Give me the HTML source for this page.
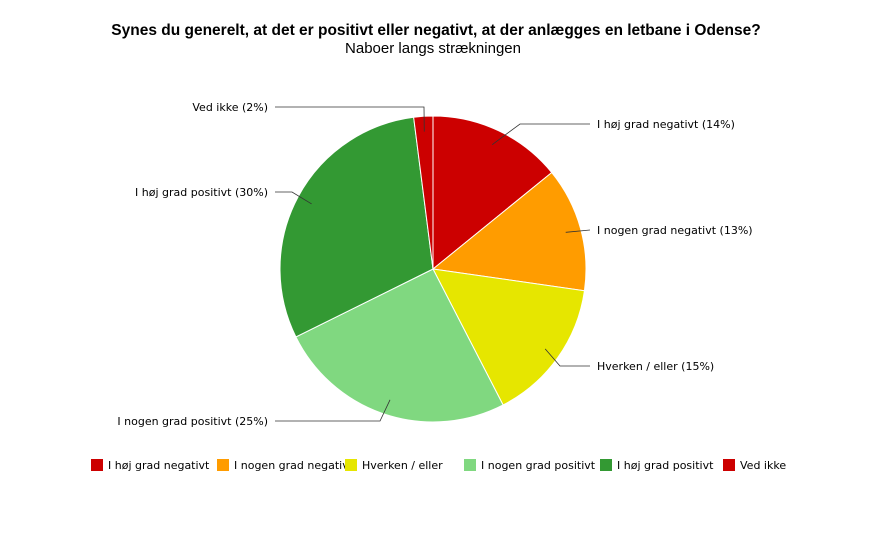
<!DOCTYPE html>
<html><head><meta charset="utf-8"><style>
body{margin:0;background:#fff;width:884px;height:546px;overflow:hidden;font-family:"Liberation Sans",Verdana,sans-serif}
svg text{font-family:"DejaVu Sans","Liberation Sans",sans-serif}
</style></head><body>
<svg id="chart" width="884" height="546" xmlns="http://www.w3.org/2000/svg">
<text x="436" y="35" text-anchor="middle" font-size="15.5" font-weight="bold" fill="#000" style="font-family:'Liberation Sans',sans-serif">Synes du generelt, at det er positivt  eller negativt, at der anlægges en letbane i Odense?</text>
<text x="433" y="53" text-anchor="middle" font-size="15" fill="#000" style="font-family:'Liberation Sans',sans-serif">Naboer langs strækningen</text>
<g id="slices"></g><g id="labels"></g><g id="legend"></g>
</svg>
<script>
const categories=["I høj grad negativt","I nogen grad negativt","Hverken / eller","I nogen grad positivt","I høj grad positivt","Ved ikke"];
const values=[14,13,15,25,30,2];
const colors=["#CC0000","#FF9C00","#E6E600","#80D880","#339933","#CC0000"];
// layout only
const labelY=[124,230,366,421,192,107];
const elbowX=[520,590,560,380,292,424];
const legendX=[91,217,345,464,600,723];
const cx=433,cy=269,r=153;
const NS="http://www.w3.org/2000/svg";
const total=values.reduce((a,b)=>a+b,0);
function pt(a,rr){return [cx+rr*Math.sin(a),cy-rr*Math.cos(a)];}
const sg=document.getElementById('slices'),lg=document.getElementById('labels'),leg=document.getElementById('legend');
let acc=0;
values.forEach((v,i)=>{
 const a0=acc/total*2*Math.PI;acc+=v;const a1=acc/total*2*Math.PI;
 const p0=pt(a0,r),p1=pt(a1,r);
 const p=document.createElementNS(NS,'path');
 p.setAttribute('d',`M${cx},${cy}L${p0[0]},${p0[1]}A${r},${r} 0 ${a1-a0>Math.PI?1:0} 1 ${p1[0]},${p1[1]}Z`);
 p.setAttribute('fill',colors[i]);p.setAttribute('stroke','#fff');p.setAttribute('stroke-width','1');
 
 
 sg.appendChild(p);
 const am=(a0+a1)/2,ip=pt(am,r*0.9);
 const right=Math.sin(am)>=0;
 const endX=right?590:275;
 const l=document.createElementNS(NS,'polyline');
 l.setAttribute('points',`${ip[0]},${ip[1]} ${elbowX[i]},${labelY[i]} ${endX},${labelY[i]}`);
 l.setAttribute('fill','none');l.setAttribute('stroke','#333');l.setAttribute('stroke-width','0.8');
 
 
 lg.appendChild(l);
 const t=document.createElementNS(NS,'text');
 t.setAttribute('x',right?597:268);t.setAttribute('y',labelY[i]+4);
 t.setAttribute('text-anchor',right?'start':'end');t.setAttribute('font-size','11');t.setAttribute('fill','#000');
 t.textContent=categories[i]+' ('+v+'%)';
 
 
 lg.appendChild(t);
 const g=document.createElementNS(NS,'g');
 
 
 const s=document.createElementNS(NS,'rect');
 s.setAttribute('x',legendX[i]);s.setAttribute('y',459);s.setAttribute('width',12);s.setAttribute('height',12);s.setAttribute('fill',colors[i]);
 
 
 const lt=document.createElementNS(NS,'text');
 lt.setAttribute('x',legendX[i]+17);lt.setAttribute('y',469);lt.setAttribute('font-size','11');lt.setAttribute('fill','#000');
 lt.textContent=categories[i];
 
 
 g.appendChild(s);g.appendChild(lt);leg.appendChild(g);
});
</script>
</body></html>
